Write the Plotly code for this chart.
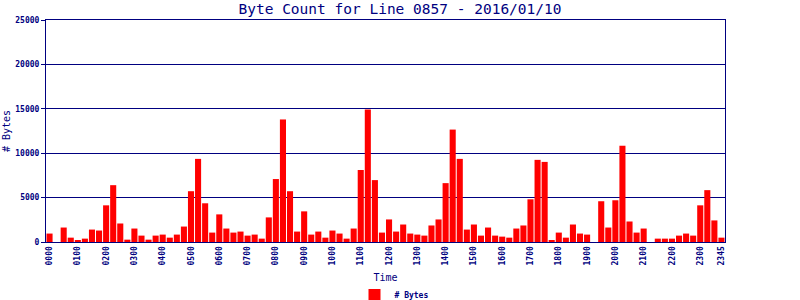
import plotly.graph_objects as go

times = [f"{h:02d}{m:02d}" for h in range(24) for m in (0, 15, 30, 45)]

byte_counts = [
    950, 0, 1630, 490, 150, 380, 1400, 1290,
    4130, 6400, 2085, 265, 1516, 720, 265, 720,
    834, 490, 834, 1740, 5720, 9360, 4360, 1060,
    3110, 1516, 1060, 1175, 720, 834, 380, 2770,
    7090, 13800, 5720, 1175, 3450, 834, 1175, 490,
    1290, 950, 380, 1516, 8110, 14930, 6970, 1060,
    2540, 1175, 1970, 950, 834, 720, 1860, 2540,
    6630, 12660, 9360, 1400, 1970, 720, 1630, 720,
    606, 490, 1516, 1860, 4810, 9250, 9020, 150,
    1060, 490, 1970, 950, 834, 0, 4590, 1630,
    4700, 10840, 2310, 1060, 1516, 0, 380, 380,
    380, 720, 950, 720, 4130, 5840, 2430, 490,
]

tick_labels = [f"{h:02d}00" for h in range(24)] + ["2345"]
y_ticks = [0, 5000, 10000, 15000, 20000, 25000]

NAVY = "#000080"
FONT = "DejaVu Sans Mono"

fig = go.Figure()
fig.add_trace(go.Bar(
    x=times, y=byte_counts, name="# Bytes",
    marker=dict(color="#ff0000", line=dict(width=0)),
    showlegend=True,
))

fig.update_layout(
    width=800, height=300,
    margin=dict(l=46, r=75, t=20, b=58, autoexpand=False),
    paper_bgcolor="white", plot_bgcolor="white",
    bargap=0.14,
    title=dict(text="Byte Count for Line 0857 - 2016/01/10", x=0.5, xref="container",
               xanchor="center", y=1 - 9 / 300, yref="container", yanchor="middle",
               font=dict(family=FONT, size=14.5, color=NAVY)),
    font=dict(family=FONT, color=NAVY),
    showlegend=True,
    legend=dict(orientation="h", x=(394 - 46) / 679, xanchor="center",
                y=-(295 - 242) / 222, yanchor="middle", yref="paper",
                font=dict(family=FONT, size=8, color=NAVY, weight="bold"),
                itemwidth=30, bgcolor="rgba(0,0,0,0)"),
)

fig.update_xaxes(
    type="category", range=[-0.5, 95.5], automargin=False,
    tickmode="array", tickvals=tick_labels, ticktext=tick_labels,
    tickangle=-90, tickfont=dict(family=FONT, size=8, color=NAVY, weight="bold"),
    ticks="", showgrid=False,
    showline=True, linecolor=NAVY, linewidth=1, mirror=True,
    title=dict(text="Time", font=dict(family=FONT, size=10, color=NAVY), standoff=9),
)
fig.update_yaxes(
    range=[0, 25000], automargin=False, tickmode="array", tickvals=y_ticks,
    ticktext=[str(v) for v in y_ticks],
    tickfont=dict(family=FONT, size=8, color=NAVY, weight="bold"),
    ticks="outside", ticklen=4, tickcolor=NAVY, tickwidth=1,
    showgrid=True, gridcolor=NAVY, gridwidth=1,
    showline=True, linecolor=NAVY, linewidth=1, mirror=True,
    zeroline=False,
    title=dict(text="# Bytes", font=dict(family=FONT, size=10, color=NAVY), standoff=2),
)

fig.write_html("out.html")
